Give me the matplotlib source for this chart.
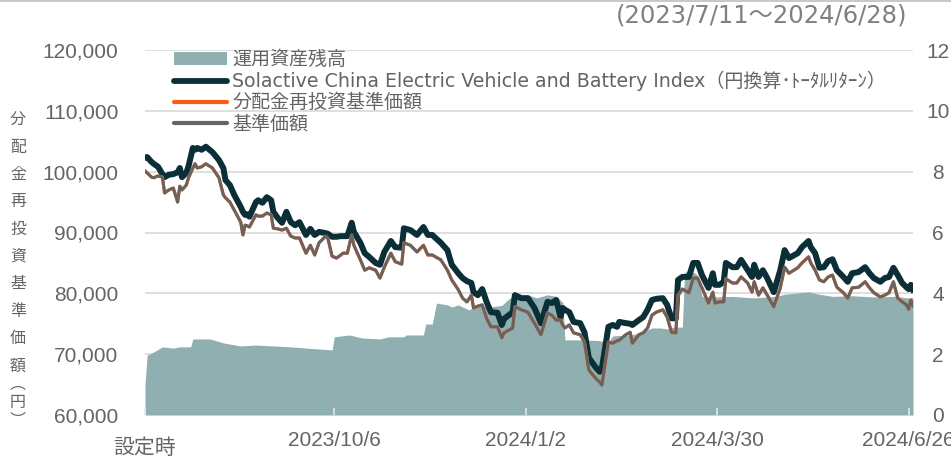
import matplotlib
matplotlib.use("Agg")
import matplotlib.pyplot as plt
import pandas as pd
from matplotlib.patches import Patch
from matplotlib.lines import Line2D
from matplotlib.transforms import ScaledTranslation

# -----------------------------
# Data
# -----------------------------
START = pd.Timestamp("2023-07-11")

# days since launch for the two price lines
days = [0, 1, 3, 4, 6, 8, 9, 11, 13, 15,
        16, 17, 19, 20, 22, 23, 24, 26, 28, 31,
        34, 36, 37, 39, 41, 44, 45, 46, 47, 48,
        51, 52, 54, 56, 58, 59, 61, 63, 65, 67,
        69, 71, 74, 76, 78, 80, 83, 84, 86, 88,
        90, 91, 93, 95, 96, 99, 101, 103, 106, 108,
        110, 113, 115, 118, 119, 122, 125, 128, 130, 132,
        136, 139, 141, 144, 146, 148, 150, 151, 153, 155,
        157, 159, 162, 164, 165, 169, 170, 173, 176, 179,
        182, 185, 187, 189, 191, 192, 193, 195, 197, 200,
        202, 204, 207, 209, 210, 213, 215, 217, 218, 221,
        223, 224, 227, 229, 231, 233, 235, 238, 240, 242,
        244, 245, 247, 250, 252, 254, 256, 259, 261, 262,
        264, 266, 267, 270, 272, 274, 277, 279, 280, 282,
        284, 286, 289, 292, 294, 296, 300, 302, 305, 306,
        308, 310, 312, 314, 316, 318, 321, 323, 325, 328,
        331, 333, 335, 338, 340, 342, 344, 346, 348, 350,
        351, 352, 353]

index_values = [102300, 102400, 101600, 101300, 100800, 99600, 99100, 99500, 99600, 99900,
                100600, 99100, 99800, 100900, 103900, 103600, 103900, 103600, 104100, 103200,
                101900, 100600, 98600, 97800, 96200, 94200, 93400, 92900, 93000, 92600,
                95000, 95300, 94900, 95800, 95300, 93400, 92400, 91600, 93400, 91700,
                91200, 91700, 89600, 90600, 89600, 90100, 89900, 89800, 89300, 89300,
                89400, 89400, 89400, 91600, 90100, 88300, 86600, 86000, 85000, 84700,
                86800, 88600, 87600, 87500, 90700, 90400, 89600, 90900, 89600, 89600,
                88300, 87100, 84700, 83300, 82500, 82000, 81700, 80200, 79700, 80700,
                78600, 76900, 76800, 74800, 75800, 76900, 79700, 79200, 79200, 77600,
                75100, 78600, 78400, 78900, 76100, 77600, 77300, 76900, 75300, 75100,
                73600, 69400, 67900, 67100, 67700, 74500, 74800, 74500, 75300, 75100,
                75000, 74800, 75600, 76100, 77300, 78900, 79100, 79200, 78100, 75900,
                75900, 82200, 82700, 82700, 85000, 85000, 83000, 80900, 83300, 81400,
                81400, 81900, 85000, 84300, 84300, 85500, 83800, 82700, 84700, 82700,
                83800, 82500, 80200, 83800, 87100, 85800, 86600, 87600, 88600, 87600,
                86600, 84200, 84300, 85300, 85600, 83800, 82700, 81900, 83300, 83500,
                84300, 83300, 82500, 81900, 82500, 82700, 84200, 83000, 81700, 81000,
                80700, 81400, 80600]

nav_values = [100100, 99800, 99100, 99000, 99300, 99100, 96500, 97000, 97300, 95000,
              97600, 97000, 97800, 99000, 100600, 101300, 100600, 100800, 101300, 100600,
              99000, 96200, 95700, 95000, 93700, 91700, 89600, 91200, 91100, 90900,
              92900, 92700, 92700, 93200, 92900, 90700, 90600, 90400, 90700, 89400,
              89100, 89100, 86600, 87900, 86300, 88300, 89400, 89100, 86100, 85800,
              86300, 86600, 86600, 89600, 87900, 85500, 83800, 84200, 83800, 82500,
              84300, 86600, 85200, 84800, 88300, 87900, 86800, 87900, 86300, 86300,
              85500, 83800, 82200, 80600, 79200, 78600, 79700, 77600, 77900, 78100,
              75900, 74500, 74500, 72700, 73500, 74300, 77800, 77300, 76900, 75100,
              73200, 76800, 76400, 75600, 75600, 74800, 74300, 74800, 73500, 73200,
              72000, 67400, 66100, 65400, 64900, 72000, 71800, 72200, 72300, 73200,
              73600, 71800, 73200, 73500, 74300, 76400, 76900, 77300, 76100, 73600,
              73500, 79700, 80700, 80100, 82500, 82500, 80900, 78400, 80200, 78400,
              78600, 78600, 82400, 81700, 81700, 82700, 81700, 80200, 81900, 79700,
              80900, 79700, 77800, 80900, 84300, 83300, 84200, 85000, 86000, 85000,
              83800, 82200, 81900, 82700, 83000, 81000, 80100, 79200, 80900, 81000,
              81900, 80900, 80100, 79400, 79700, 80100, 81900, 79200, 78600, 78100,
              77400, 78900, 77900]

# no distributions -> reinvested NAV equals NAV
reinvested_values = list(nav_values)

# net assets (right axis)
aum_days = [0, 1, 3, 8, 13, 16, 21, 22, 30, 36, 44, 51, 59, 67, 74, 86, 87, 94,
            100, 108, 112, 119, 120, 128, 129, 132, 134, 139, 141, 144, 146, 149,
            152, 158, 164, 167, 170, 176, 180, 185, 189, 192, 193, 200, 208, 213,
            215, 223, 228, 233, 237, 240, 243, 247, 248, 252, 254, 256, 262, 270,
            280, 290, 294, 305, 310, 316, 325, 335, 345, 350, 353]
aum_values = [1.0, 1.97, 2.03, 2.24, 2.2, 2.24, 2.24, 2.5, 2.5, 2.37, 2.27, 2.3, 2.27,
              2.24, 2.2, 2.14, 2.57, 2.63, 2.53, 2.5, 2.57, 2.57, 2.63, 2.63, 2.99,
              2.99, 3.68, 3.62, 3.55, 3.62, 3.55, 3.45, 3.62, 3.55, 3.6, 3.8, 3.95,
              3.95, 3.85, 3.95, 3.9, 3.7, 2.47, 2.47, 2.45, 2.4, 2.6, 2.63, 2.7,
              2.86, 2.86, 2.83, 2.89, 2.89, 4.7, 4.7, 4.6, 3.9, 3.88, 3.9, 3.85,
              3.9, 3.97, 4.05, 3.97, 3.9, 3.92, 3.88, 3.9, 3.85, 3.85]

tick_dates = ["2023-07-11", "2023-10-06", "2024-01-02", "2024-03-30", "2024-06-26"]
tick_labels = ["設定時", "2023/10/6", "2024/1/2", "2024/3/30", "2024/6/26"]

legend_labels = ["運用資産残高",
                 "Solactive China Electric Vehicle and Battery Index（円換算･ﾄｰﾀﾙﾘﾀｰﾝ）",
                 "分配金再投資基準価額",
                 "基準価額"]
ylabel_chars = list("分配金再投資基準価額") + ["︵", "円", "︶"]

# -----------------------------
# Styling
# -----------------------------
TEAL = "#8FAFB0"
DARK = "#0B2F36"
ORANGE = "#FF5A14"
GRAY = "#646464"
TEXT = "#646464"
GRID = "#D9D9D9"
TICK_FONT = ["Liberation Sans", "Noto Sans CJK JP"]
LEGEND_FONT = ["DejaVu Sans", "Noto Sans CJK JP"]

dates = START + pd.to_timedelta(days, unit="D")
aum_dates = START + pd.to_timedelta(aum_days, unit="D")

W, H = 951, 459
fig = plt.figure(figsize=(W / 100, H / 100), dpi=100)
ax = fig.add_axes([145 / W, 1 - 415 / H, 768 / W, 365 / H])
ax2 = ax.twinx()
ax.set_zorder(2)
ax2.set_zorder(1)
ax.patch.set_visible(False)

# area on the right axis
ax2.fill_between(aum_dates, aum_values, 0, color=TEAL, lw=0, zorder=1)
ax2.set_ylim(0, 12)
ax2.set_yticks(range(0, 13, 2))
ax2.set_yticklabels([str(v) for v in range(0, 13, 2)])
ax2.set_axisbelow(True)
ax2.grid(axis="y", color=GRID, lw=1.2)
ax2.tick_params(axis="y", length=0, pad=18, labelsize=15, labelcolor=TEXT)
for lab in ax2.get_yticklabels():
    lab.set_ha("center")
    lab.set_family(TICK_FONT)

# lines on the left axis
ax.plot(dates, index_values, color=DARK, lw=4.3, solid_joinstyle="round", zorder=3)
ax.plot(dates, reinvested_values, color=ORANGE, lw=2.35, solid_joinstyle="round", zorder=4)
ax.plot(dates, nav_values, color=GRAY, lw=2.05, solid_joinstyle="round", zorder=5)

ax.set_ylim(60000, 120000)
ax.set_yticks(range(60000, 120001, 10000))
ax.set_yticklabels([f"{v:,}" for v in range(60000, 120001, 10000)])
ax.tick_params(axis="y", length=0, pad=19, labelsize=15, labelcolor=TEXT)

ax.set_xlim(START, START + pd.Timedelta(days=353))
ax.set_xticks(pd.to_datetime(tick_dates))
ax.set_xticklabels(tick_labels)
ax.tick_params(axis="x", direction="in", length=5, width=1.2, color="#E6E6E6",
               pad=11.5, labelsize=15, labelcolor=TEXT)
for lab in ax.get_xticklabels() + ax.get_yticklabels():
    lab.set_family(TICK_FONT)
# the launch label sits a little lower than the dates
first = ax.xaxis.get_major_ticks()[0].label1
first.set_transform(first.get_transform() + ScaledTranslation(0, -0.08, fig.dpi_scale_trans))

for a in (ax, ax2):
    for s in a.spines.values():
        s.set_visible(False)

# legend
handles = [Patch(facecolor=TEAL, edgecolor="none"),
           Line2D([], [], color=DARK, lw=4.2, solid_capstyle="round"),
           Line2D([], [], color=ORANGE, lw=3, solid_capstyle="round"),
           Line2D([], [], color=GRAY, lw=3, solid_capstyle="round")]
leg = fig.legend(handles, legend_labels, loc="upper left",
                 bbox_to_anchor=(174 / W, 1 - 50 / H), frameon=False,
                 borderpad=0, borderaxespad=0, handlelength=2.8, handletextpad=0.27,
                 labelspacing=0.11, prop={"family": LEGEND_FONT, "size": 13.7})
for t in leg.get_texts():
    t.set_color(TEXT)

# vertical y-axis title
y0 = 120
paren_pos = [384, 402, 420]
for i, ch in enumerate(ylabel_chars):
    yy = y0 + i * 27.3 if i < 10 else paren_pos[i - 10]
    fig.text(18 / W, 1 - yy / H, ch, ha="center", va="center", fontsize=11.5,
             color=TEXT, family=["Noto Sans CJK JP"])

# period title and top rule
fig.text(762 / W, 1 - 16 / H, "(2023/7/11～2024/6/28)", ha="center", va="center",
         fontsize=17.5, color="#808080", family=LEGEND_FONT)
fig.add_artist(Line2D([0, 1], [1 - 0.8 / H, 1 - 0.8 / H], transform=fig.transFigure,
                      color="#BFBFBF", lw=1.2))

fig.savefig("out.png", dpi=100)
